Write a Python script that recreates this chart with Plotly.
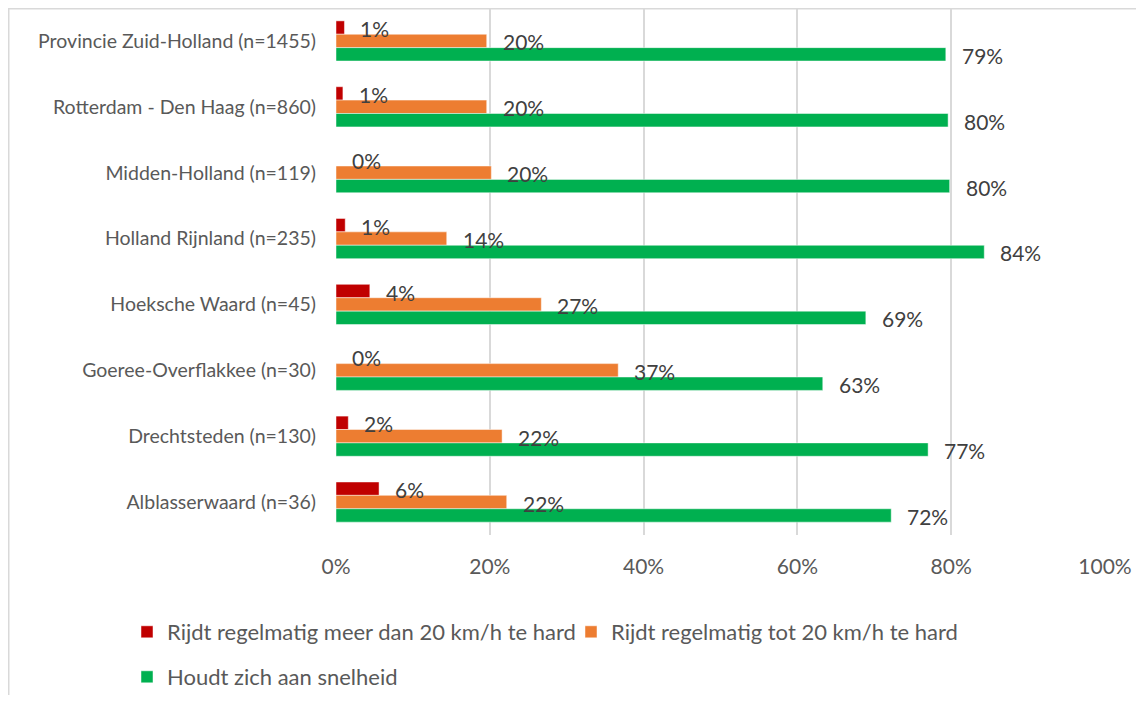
import plotly.graph_objects as go

categories = [
    "Provincie Zuid-Holland (n=1455)",
    "Rotterdam - Den Haag (n=860)",
    "Midden-Holland (n=119)",
    "Holland Rijnland (n=235)",
    "Hoeksche Waard (n=45)",
    "Goeree-Overflakkee (n=30)",
    "Drechtsteden (n=130)",
    "Alblasserwaard (n=36)",
]
meer_dan_20 = [0.011, 0.009, 0.0, 0.012, 0.044, 0.0, 0.016, 0.056]
tot_20 = [0.196, 0.196, 0.202, 0.144, 0.267, 0.367, 0.216, 0.222]
houdt_zich = [0.793, 0.796, 0.798, 0.843, 0.689, 0.633, 0.770, 0.722]

series_names = [
    "Rijdt regelmatig meer dan 20 km/h te hard",
    "Rijdt regelmatig tot 20 km/h te hard",
    "Houdt zich aan snelheid",
]
series_values = [meer_dan_20, tot_20, houdt_zich]
series_colors = ["#C00000", "#ED7D31", "#00B050"]
x_ticks = [0, 0.2, 0.4, 0.6, 0.8, 1.0]

FONT = "Lato"
# page body has an 8px margin; figure coordinates = screen - 8
W, H = 1128, 687
L, R, T, B = 328, 31, 0, 160
PW, PH = W - L - R, H - T - B

fig = go.Figure()
legends = ["legend", "legend2", "legend3"]
for name, vals, col, lg in zip(series_names, series_values, series_colors, legends):
    fig.add_trace(go.Bar(
        y=categories, x=vals, name=name, orientation="h",
        marker=dict(color=col, line=dict(color="rgba(255,255,255,0.6)", width=0.8)),
        legend=lg, showlegend=True, hoverinfo="x+y",
    ))

# data labels
bar_px = PH / len(categories) * (1 - 0.39) / 3
annotations = []
for i, vals in enumerate(series_values):
    for cat, v in zip(categories, vals):
        annotations.append(dict(
            x=v, y=cat, xref="x", yref="y", text=f"{round(v * 100)}%",
            showarrow=False, xanchor="left", yanchor="middle",
            xshift=14, yshift=(1 - i) * bar_px - 1,
            font=dict(family=FONT, size=21, color="#404040"),
        ))

# chart border (top and left edges)
shapes = [
    dict(type="line", xref="paper", yref="paper",
         x0=(0 - L) / PW, x1=(W - L) / PW,
         y0=1 - 0.75 / PH, y1=1 - 0.75 / PH, line=dict(color="#D9D9D9", width=1.5)),
    dict(type="line", xref="paper", yref="paper",
         x0=(0.75 - L) / PW, x1=(0.75 - L) / PW,
         y0=1, y1=-B / PH, line=dict(color="#D9D9D9", width=1.5)),
]

leg_common = dict(
    orientation="h", xref="container", yref="container",
    xanchor="left", yanchor="top",
    font=dict(family=FONT, size=22, color="#595959"),
    bgcolor="rgba(0,0,0,0)",
)

fig.update_layout(
    width=W, height=H,
    margin=dict(l=L, r=R, t=T, b=B, pad=0),
    paper_bgcolor="white", plot_bgcolor="white",
    barmode="group", bargap=0.39, bargroupgap=0,
    font=dict(family=FONT, color="#595959"),
    annotations=annotations, shapes=shapes,
    showlegend=True,
    xaxis=dict(
        range=[0, 1], tickvals=x_ticks, tickformat=".0%",
        showgrid=True, gridcolor="#D9D9D9", gridwidth=1.5,
        zeroline=False, showline=False, ticks="", automargin=False,
        tickfont=dict(family=FONT, size=21, color="#595959"),
        ticklabelstandoff=17,
    ),
    yaxis=dict(
        autorange="reversed", showgrid=False, showline=False, ticks="",
        automargin=False,
        tickfont=dict(family=FONT, size=19.5, color="#595959"),
        ticklabelstandoff=19,
    ),
    legend=dict(x=119 / W, y=1 - 603 / H, visible=True, **leg_common),
    legend2=dict(x=563 / W, y=1 - 603 / H, visible=True, **leg_common),
    legend3=dict(x=119 / W, y=1 - 648 / H, visible=True, **leg_common),
)

fig.write_html("out.html")
